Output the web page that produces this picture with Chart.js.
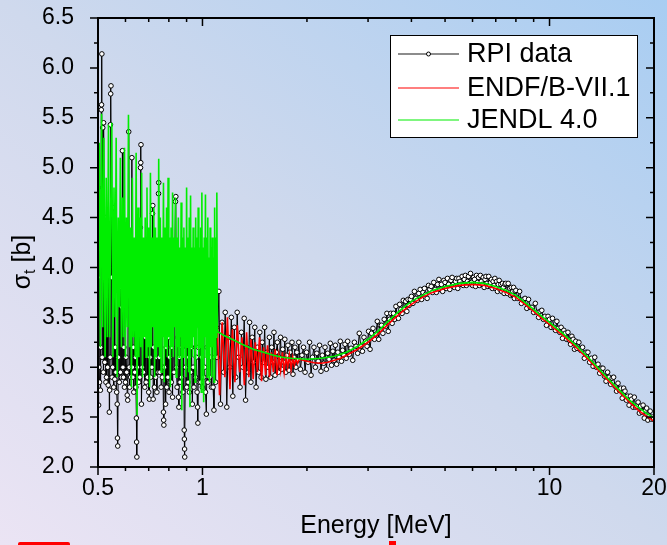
<!DOCTYPE html>
<html>
<head>
<meta charset="utf-8">
<title>Total cross section</title>
<script src="https://cdn.jsdelivr.net/npm/chart.js@4"></script>
<style>
  html, body { margin: 0; padding: 0; }
  body {
    width: 667px; height: 545px; overflow: hidden; position: relative;
    background: linear-gradient(to top right, #ebe4f4 0%, #cfd9ed 50%, #a8cdf2 100%);
  }
  #chart { position: absolute; left: 0; top: 0; }
  .logo { position: absolute; background: #f00; }
</style>
</head>
<body>
<canvas id="chart" width="667" height="545"></canvas>
<div class="logo" style="left:18px;top:542px;width:52px;height:3px;border-radius:2px 2px 0 0"></div>
<div class="logo" style="left:389px;top:541px;width:7px;height:4px"></div>
<script>
// RPI transmission data, energy in MeV and total cross section in barns
const rpiEnergy = [
  0.500,0.501,0.502,0.503,0.505,0.506,0.508,0.509,0.511,0.512,
  0.513,0.514,0.516,0.518,0.519,0.521,0.523,0.525,0.527,0.529,
  0.531,0.533,0.535,0.537,0.539,0.540,0.542,0.543,0.544,0.545,
  0.547,0.549,0.551,0.553,0.555,0.557,0.559,0.561,0.563,0.566,
  0.568,0.569,0.570,0.572,0.574,0.576,0.578,0.580,0.582,0.584,
  0.586,0.588,0.590,0.592,0.594,0.596,0.598,0.600,0.602,0.605,
  0.607,0.609,0.611,0.613,0.615,0.617,0.619,0.621,0.624,0.626,
  0.628,0.630,0.632,0.634,0.636,0.638,0.641,0.643,0.645,0.646,
  0.647,0.649,0.652,0.655,0.658,0.660,0.662,0.663,0.664,0.665,
  0.667,0.670,0.673,0.676,0.679,0.682,0.685,0.688,0.691,0.694,
  0.697,0.700,0.703,0.706,0.709,0.712,0.715,0.718,0.719,0.721,
  0.724,0.727,0.730,0.733,0.736,0.739,0.742,0.745,0.747,0.748,
  0.751,0.754,0.757,0.760,0.763,0.766,0.769,0.772,0.773,0.774,
  0.777,0.780,0.783,0.786,0.789,0.792,0.795,0.798,0.801,0.804,
  0.807,0.810,0.813,0.816,0.820,0.824,0.828,0.832,0.836,0.838,
  0.841,0.845,0.849,0.853,0.855,0.858,0.862,0.866,0.870,0.874,
  0.878,0.882,0.886,0.887,0.888,0.889,0.893,0.897,0.901,0.905,
  0.909,0.913,0.917,0.921,0.925,0.930,0.935,0.940,0.945,0.950,
  0.955,0.960,0.965,0.968,0.970,0.974,0.979,0.984,0.989,0.994,
  0.999,1.004,1.009,1.014,1.020,1.026,1.031,1.037,1.043,1.049,
  1.055,1.061,1.067,1.073,1.079,1.085,1.091,1.097,
  1.103,1.115,1.127,1.139,1.151,1.163,1.175,1.187,1.199,1.211,
  1.223,1.235,1.247,1.259,1.271,1.283,1.295,1.307,1.319,1.331,
  1.343,1.355,1.367,1.379,1.391,1.403,1.415,1.427,1.439,1.451,
  1.463,1.475,1.487,1.499,1.511,1.523,1.535,1.547,1.559,1.571,
  1.583,1.595,1.607,1.619,1.631,1.643,1.655,1.667,1.679,1.691,
  1.703,1.715,1.727,1.739,1.751,1.763,1.775,1.787,1.799,1.811,
  1.823,1.835,1.847,1.859,1.871,1.883,1.895,1.915,1.935,1.955,
  1.975,1.995,2.015,2.035,2.055,2.075,2.095,2.115,2.135,2.155,
  2.175,2.195,2.215,2.235,2.255,2.275,2.295,2.315,2.335,2.355,
  2.375,2.395,2.415,2.435,2.455,2.475,2.495,2.515,2.535,2.555,
  2.575,2.595,
  2.62,2.65,2.68,2.71,2.74,2.77,2.80,2.83,2.86,2.89,
  2.92,2.95,2.98,3.01,3.04,3.07,3.10,3.13,3.16,3.19,
  3.22,3.25,3.28,3.31,3.34,3.37,3.40,3.43,3.46,3.49,
  3.52,3.55,3.58,3.61,3.64,3.67,3.70,3.73,3.76,3.79,
  3.82,3.85,3.88,3.91,3.94,3.97,
  4.00,4.04,4.08,4.12,4.16,4.20,4.24,4.28,4.32,4.36,
  4.40,4.44,4.48,4.52,4.56,4.60,4.64,4.68,4.72,4.76,
  4.80,4.84,4.88,4.92,4.96,5.00,5.04,5.08,5.12,5.16,
  5.20,5.24,5.28,5.32,5.36,5.40,5.44,5.48,5.52,5.56,
  5.60,5.64,5.68,5.72,5.76,5.80,5.84,5.88,5.92,5.96,
  6.00,6.04,6.08,6.12,6.16,6.20,6.24,6.28,6.32,6.36,
  6.40,6.44,6.48,6.52,6.56,6.60,6.64,6.68,6.72,6.76,
  6.80,6.84,6.88,6.92,6.96,7.00,7.04,7.08,7.12,7.16,
  7.20,7.24,7.28,7.32,7.36,7.40,7.44,7.48,7.52,7.56,
  7.60,7.64,7.68,7.72,7.76,7.80,7.84,7.88,7.92,7.96,
  8.0,8.1,8.2,8.3,8.4,8.5,8.6,8.7,8.8,8.9,
  9.0,9.1,9.2,9.3,9.4,9.5,9.6,9.7,9.8,9.9,
  10.0,10.1,10.2,10.3,10.4,10.5,10.6,10.7,10.8,10.9,
  11.0,11.1,11.2,11.3,11.4,11.5,11.6,11.7,11.8,11.9,
  12.00,12.15,12.30,12.45,12.60,12.75,12.90,13.05,13.20,13.35,
  13.50,13.65,13.80,13.95,14.10,14.25,14.40,14.55,14.70,14.85,
  15.00,15.15,15.30,15.45,15.60,15.75,15.90,16.05,16.20,16.35,
  16.50,16.65,16.80,16.95,17.10,17.25,17.40,17.55,17.70,17.85,
  18.00,18.15,18.30,18.45,18.60,18.75,18.90,19.05,19.20,19.35,
  19.50,19.65,19.80,19.95
];
const rpiSigma = [
  3.9,4.8,2.62,3.0,2.85,4.4,2.77,3.2,5.58,5.63,
  6.14,3.1,5.4,2.95,5.45,4.1,3.05,4.5,2.85,2.9,
  4.2,3.0,2.82,4.0,2.55,2.77,3.1,5.43,5.74,5.82,
  3.9,2.9,3.0,4.6,2.8,4.1,2.88,3.2,2.95,2.75,
  2.63,2.29,2.21,3.1,4.3,2.85,3.8,2.95,4.4,2.9,
  3.6,5.17,3.0,2.9,3.2,2.8,4.2,2.85,3.1,2.95,
  2.72,2.67,4.0,5.36,3.0,2.8,4.3,2.9,3.6,5.1,
  3.0,2.9,3.2,2.75,4.1,2.95,3.1,2.8,2.49,2.25,
  2.10,3.0,4.0,2.85,3.4,2.9,4.4,5.0,5.05,5.23,
  2.63,3.0,3.5,2.95,4.2,2.8,3.3,2.85,4.0,2.9,
  3.4,2.75,2.68,3.1,2.9,4.1,3.0,4.54,4.62,2.68,
  3.2,2.8,3.6,2.9,3.1,2.75,4.0,2.95,4.74,4.85,
  3.1,2.95,3.4,2.8,3.7,2.9,3.0,2.55,2.47,2.42,
  3.0,3.6,2.63,3.2,2.8,4.0,2.9,3.3,2.75,3.1,
  2.85,3.6,2.85,3.2,2.7,3.5,2.95,4.1,4.66,4.71,
  3.0,2.8,3.3,2.7,2.6,3.1,2.85,3.6,2.9,3.2,
  2.75,3.5,2.37,2.28,2.18,2.10,3.0,3.7,2.8,3.3,
  2.85,3.1,2.75,3.5,2.95,3.2,2.63,3.0,2.8,3.4,
  2.9,3.1,2.75,2.6,2.44,3.2,2.85,3.6,2.85,3.1,
  2.8,3.4,2.9,3.0,2.75,2.53,3.2,2.85,3.4,2.9,
  3.1,2.8,3.3,2.8,2.57,3.1,2.85,3.4,
  3.1,3.76,2.63,3.45,2.95,3.55,2.6,3.3,3.0,3.5,
  2.71,3.4,2.9,3.55,3.1,2.8,3.35,3.0,3.49,2.67,
  3.2,2.95,3.45,2.85,3.3,3.05,3.4,2.8,3.2,2.95,
  3.35,2.9,3.25,3.05,3.4,2.88,3.15,3.0,3.3,2.9,
  3.2,3.05,3.35,2.92,3.15,3.25,2.95,3.1,3.3,2.98,
  3.18,3.05,3.28,2.95,3.12,3.22,2.97,3.15,3.05,3.25,
  2.93,3.1,3.2,3.0,3.15,3.07,3.25,2.98,3.12,3.2,
  2.95,3.15,3.05,3.25,2.92,3.1,3.2,3.0,3.14,3.06,
  3.22,2.96,3.12,3.04,3.2,2.98,3.14,3.08,3.24,3.02,
  3.16,3.07,3.22,3.03,3.15,3.1,3.26,3.06,3.17,3.12,
  3.23,3.09,
  3.26,3.13,3.19,3.07,3.25,3.21,3.14,3.34,3.21,3.16,
  3.30,3.26,3.21,3.36,3.18,3.34,3.39,3.28,3.33,3.46,
  3.28,3.42,3.42,3.34,3.48,3.41,3.54,3.36,3.48,3.54,
  3.44,3.54,3.48,3.61,3.52,3.49,3.63,3.58,3.54,3.67,
  3.58,3.66,3.56,3.68,3.62,3.68,
  3.71,3.64,3.76,3.69,3.67,3.74,3.78,3.68,3.75,3.79,
  3.73,3.69,3.82,3.78,3.81,3.75,3.85,3.78,3.75,3.83,
  3.88,3.78,3.83,3.76,3.87,3.85,3.79,3.89,3.83,3.78,
  3.87,3.90,3.83,3.80,3.86,3.89,3.79,3.89,3.86,3.83,
  3.91,3.82,3.88,3.92,3.82,3.86,3.91,3.84,3.94,3.85,
  3.82,3.90,3.88,3.81,3.92,3.85,3.90,3.82,3.92,3.86,
  3.83,3.90,3.80,3.88,3.91,3.84,3.81,3.91,3.82,3.85,
  3.88,3.79,3.86,3.82,3.89,3.79,3.86,3.76,3.83,3.87,
  3.78,3.83,3.76,3.84,3.80,3.74,3.83,3.84,3.77,3.74,
  3.84,3.77,3.79,3.72,3.80,3.73,3.76,3.80,3.69,3.76,
  3.77,3.69,3.76,3.64,3.68,3.69,3.59,3.68,3.60,3.60,
  3.55,3.64,3.55,3.50,3.56,3.57,3.48,3.51,3.42,3.51,
  3.48,3.40,3.49,3.40,3.37,3.46,3.39,3.35,3.40,3.29,
  3.37,3.34,3.28,3.35,3.27,3.23,3.31,3.28,3.18,3.26,
  3.19,3.25,3.17,3.20,3.09,3.15,3.15,3.05,3.09,3.01,
  3.10,3.00,3.03,2.94,2.99,2.99,2.91,2.86,2.95,2.90,
  2.83,2.89,2.90,2.81,2.76,2.84,2.77,2.79,2.69,2.79,
  2.76,2.67,2.71,2.62,2.71,2.68,2.60,2.70,2.60,2.61,
  2.65,2.54,2.61,2.55,2.62,2.49,2.57,2.59,2.47,2.51,
  2.56,2.48,2.50,2.48
];

// ENDF/B-VII.1 evaluation
const endfEnergy = [
  1.08,1.10,1.12,1.14,1.16,1.18,1.20,1.22,1.24,1.26,
  1.28,1.30,1.32,1.34,1.36,1.38,1.40,1.42,1.44,1.46,
  1.48,1.50,1.52,1.54,1.56,1.58,1.60,1.62,1.64,1.66,
  1.68,1.70,1.72,1.74,1.76,1.78,1.80,1.82,1.84,1.86,
  1.88,1.90,
  1.95,2.0,2.1,2.2,2.3,2.4,2.5,2.6,2.8,3.0,
  3.2,3.4,3.6,3.8,4.0,4.3,4.6,5.0,5.5,6.0,
  6.5,7.0,7.5,8.0,8.5,9.0,9.5,10,11,12,
  13,14,15,16,17,18,19,20
];
const endfSigma = [
  3.3,3.57,2.72,3.45,2.9,3.5,2.78,3.38,2.85,3.42,
  2.95,3.3,2.82,3.35,2.9,3.28,2.88,3.25,2.95,3.3,
  2.86,3.2,2.92,3.22,2.9,3.15,2.95,3.18,2.92,3.12,
  2.97,3.15,2.95,3.1,3.0,3.12,2.98,3.1,3.02,3.08,
  3.04,3.08,
  3.07,3.06,3.045,3.04,3.05,3.07,3.09,3.12,3.18,3.25,
  3.33,3.42,3.50,3.57,3.63,3.70,3.75,3.79,3.82,3.83,
  3.82,3.79,3.75,3.70,3.63,3.56,3.49,3.43,3.31,3.19,
  3.07,2.95,2.84,2.74,2.65,2.57,2.51,2.46
];

// JENDL 4.0 evaluation
const jendlEnergy = [
  0.500,0.504,0.508,0.512,0.516,0.520,0.524,0.528,0.532,0.536,
  0.540,0.544,0.548,0.552,0.556,0.560,0.564,0.568,0.572,0.576,
  0.580,0.584,0.588,0.592,0.596,0.600,0.604,0.608,0.612,0.616,
  0.620,0.624,0.628,0.632,0.636,0.640,0.644,0.648,0.652,0.656,
  0.660,0.664,0.668,0.672,0.676,0.680,0.684,0.688,0.692,0.696,
  0.700,0.704,0.708,0.712,0.716,0.720,0.724,0.728,0.732,0.736,
  0.740,0.744,0.748,0.752,0.756,0.760,0.764,0.768,0.772,0.776,
  0.780,0.784,0.788,0.792,0.796,0.800,0.804,0.808,0.812,0.816,
  0.820,0.824,0.828,0.832,0.836,0.840,0.844,0.848,0.852,0.856,
  0.860,0.864,0.868,0.872,0.876,0.880,0.884,0.888,0.892,0.896,
  0.900,0.904,0.908,0.912,0.916,0.920,0.924,0.928,0.932,0.936,
  0.940,0.944,0.948,0.952,0.956,0.960,0.964,0.968,0.972,0.976,
  0.980,0.984,0.988,0.992,0.996,1.000,1.004,1.008,1.012,1.016,
  1.020,1.024,1.028,1.032,1.036,1.040,1.044,1.048,1.052,1.056,
  1.060,1.064,1.068,1.072,1.076,1.080,1.084,1.088,1.092,1.096,
  1.100,
  1.104,1.15,1.2,1.25,1.3,1.4,1.5,1.6,1.7,1.8,
  1.9,2.0,2.2,2.4,2.6,2.8,3.0,3.2,3.4,3.6,
  3.8,4.0,4.3,4.6,5.0,5.5,6.0,6.5,7.0,7.5,
  8.0,8.5,9.0,9.5,10,11,12,13,14,15,
  16,17,18,19,20
];
const jendlSigma = [
  4.4,5.25,3.2,5.54,3.4,5.3,3.1,4.9,3.3,5.43,
  3.3,4.6,5.45,3.1,4.8,3.5,5.3,2.9,4.5,3.6,
  5.1,3.2,4.7,3.3,5.2,3.1,4.5,3.4,5.53,3.2,
  4.4,2.8,4.9,3.3,4.3,3.1,5.15,2.52,4.6,3.1,
  4.5,3.2,4.95,2.9,4.3,3.3,4.5,3.1,4.8,3.2,
  4.4,2.8,4.95,3.2,4.3,3.4,4.6,2.9,4.4,3.1,
  4.3,3.2,5.09,3.1,4.5,2.95,4.3,3.3,4.85,2.85,
  4.4,3.2,4.6,3.1,4.9,3.3,4.3,2.8,4.4,3.2,
  4.75,3.1,4.3,3.4,4.7,2.9,4.3,3.2,4.5,3.1,
  4.2,3.3,4.65,2.57,4.3,3.1,4.4,3.2,4.2,2.9,
  4.8,3.2,4.3,2.95,4.5,2.6,4.72,3.2,4.2,3.1,
  4.4,3.3,4.2,2.85,4.5,3.2,4.3,3.4,4.6,3.1,
  4.2,3.2,4.4,2.75,4.75,3.2,4.2,2.65,4.3,3.3,
  4.73,3.1,4.3,2.9,4.5,3.2,4.1,2.85,4.4,3.2,
  4.2,2.9,4.3,3.2,4.1,2.85,4.6,3.1,4.3,3.3,
  4.75,
  3.36,3.32,3.29,3.26,3.23,3.18,3.15,3.12,3.10,3.09,
  3.085,3.08,3.09,3.11,3.15,3.21,3.28,3.36,3.45,3.53,
  3.60,3.66,3.72,3.77,3.81,3.84,3.85,3.84,3.81,3.77,
  3.72,3.65,3.58,3.51,3.45,3.33,3.21,3.09,2.97,2.86,
  2.76,2.67,2.60,2.54,2.49
];

const xMajor = [0.5, 1, 10, 20];
const xMinor = [0.6, 0.7, 0.8, 0.9, 2, 3, 4, 5, 6, 7, 8, 9];
const yMin = 2, yMax = 6.5, yStep = 0.5;

const FONT = 'Arial, "Liberation Sans", sans-serif';
const toPoints = (xs, ys) => xs.map((x, i) => ({ x: x, y: ys[i] }));

// box around the plot with ticks on all four sides
const frame = {
  id: 'frame',
  afterDatasetsDraw(chart) {
    const { ctx, chartArea: a, scales: { x, y } } = chart;
    ctx.save();
    ctx.strokeStyle = '#000';
    ctx.lineWidth = 2;
    ctx.strokeRect(a.left, a.top, a.right - a.left, a.bottom - a.top);
    ctx.lineWidth = 1.5;
    ctx.beginPath();
    xMajor.concat(xMinor).forEach(v => {
      const px = x.getPixelForValue(v);
      const len = xMajor.includes(v) ? 8 : 4;
      ctx.moveTo(px, a.bottom); ctx.lineTo(px, a.bottom + len);
      ctx.moveTo(px, a.top); ctx.lineTo(px, a.top + len);
    });
    for (let v = yMin; v <= yMax + 1e-9; v += yStep / 2) {
      const py = y.getPixelForValue(v);
      const major = Math.abs(v / yStep - Math.round(v / yStep)) < 1e-6;
      const len = major ? 8 : 4;
      ctx.moveTo(a.left, py); ctx.lineTo(a.left - len, py);
      ctx.moveTo(a.right, py); ctx.lineTo(a.right - len, py);
    }
    ctx.stroke();
    ctx.restore();
  }
};

// y axis title with subscript
const sigmaTitle = {
  id: 'sigmaTitle',
  afterDraw(chart) {
    const ctx = chart.ctx;
    ctx.save();
    ctx.translate(22, 262);
    ctx.rotate(-Math.PI / 2);
    ctx.fillStyle = '#000';
    ctx.textBaseline = 'alphabetic';
    const big = '25px ' + FONT, small = '16px ' + FONT;
    ctx.font = big; const w1 = ctx.measureText('σ').width; const w3 = ctx.measureText(' [b]').width;
    ctx.font = small; const w2 = ctx.measureText('t').width;
    const x0 = -(w1 + w2 + w3) / 2;
    ctx.font = big; ctx.fillText('σ', x0, 8);
    ctx.font = small; ctx.fillText('t', x0 + w1, 13);
    ctx.font = big; ctx.fillText(' [b]', x0 + w1 + w2, 8);
    ctx.restore();
  }
};

// boxed legend in the top right corner
const boxLegend = {
  id: 'boxLegend',
  afterDraw(chart) {
    const ctx = chart.ctx;
    const bx = 390, by = 35, bw = 247, bh = 102;
    ctx.save();
    ctx.fillStyle = '#fff';
    ctx.fillRect(bx, by, bw, bh);
    ctx.strokeStyle = '#000';
    ctx.lineWidth = 1;
    ctx.strokeRect(bx + 0.5, by + 0.5, bw, bh);
    const rows = [54, 88, 120];
    chart.data.datasets.forEach((ds, i) => {
      const ry = rows[i];
      ctx.strokeStyle = i === 0 ? '#666' : ds.borderColor;
      ctx.lineWidth = i === 0 ? 1.5 : 1.2;
      ctx.beginPath(); ctx.moveTo(398, ry); ctx.lineTo(459, ry); ctx.stroke();
      if (i === 0) {
        ctx.beginPath(); ctx.arc(428.5, ry, 2, 0, Math.PI * 2);
        ctx.fillStyle = '#fff'; ctx.fill();
        ctx.strokeStyle = '#000'; ctx.lineWidth = 1; ctx.stroke();
      }
      ctx.fillStyle = '#000';
      ctx.font = '27px ' + FONT;
      ctx.textBaseline = 'middle';
      ctx.fillText(ds.label, 467, ry + 1);
    });
    ctx.restore();
  }
};

new Chart(document.getElementById('chart'), {
  type: 'line',
  data: {
    datasets: [
      {
        label: 'RPI data',
        data: toPoints(rpiEnergy, rpiSigma),
        borderColor: '#000',
        borderWidth: 1,
        pointRadius: 2.3,
        pointBackgroundColor: '#fff',
        pointBorderColor: '#000',
        pointBorderWidth: 1,
        order: 3
      },
      {
        label: 'ENDF/B-VII.1',
        data: toPoints(endfEnergy, endfSigma),
        borderColor: '#ff0000',
        borderWidth: 1.6,
        pointRadius: 0,
        order: 2
      },
      {
        label: 'JENDL 4.0',
        data: toPoints(jendlEnergy, jendlSigma),
        borderColor: '#00ee00',
        borderWidth: 1.6,
        pointRadius: 0,
        order: 1
      }
    ]
  },
  options: {
    responsive: false,
    animation: false,
    events: [],
    layout: { padding: { top: 18, right: 13, left: 0, bottom: 0 } },
    plugins: { legend: { display: false }, tooltip: { enabled: false } },
    scales: {
      x: {
        type: 'logarithmic',
        min: 0.5,
        max: 20,
        grid: { display: false },
        border: { display: false },
        afterBuildTicks: s => { s.ticks = xMajor.map(v => ({ value: v })); },
        afterFit: s => { s.height = 78; s.paddingLeft = 0; s.paddingRight = 0; },
        ticks: {
          autoSkip: false,
          maxRotation: 0,
          padding: 0,
          color: '#000',
          font: { family: FONT, size: 23 },
          callback: v => String(v)
        },
        title: {
          display: true,
          text: 'Energy [MeV]',
          color: '#000',
          font: { family: FONT, size: 25 },
          padding: { top: 0, bottom: 4 }
        }
      },
      y: {
        min: yMin,
        max: yMax,
        grid: { display: false },
        border: { display: false },
        afterFit: s => { s.width = 98; s.paddingTop = 0; s.paddingBottom = 0; },
        ticks: {
          stepSize: yStep,
          padding: 16,
          color: '#000',
          font: { family: FONT, size: 23 },
          callback: v => v.toFixed(1)
        }
      }
    }
  },
  plugins: [frame, sigmaTitle, boxLegend]
});
</script>
</body>
</html>
